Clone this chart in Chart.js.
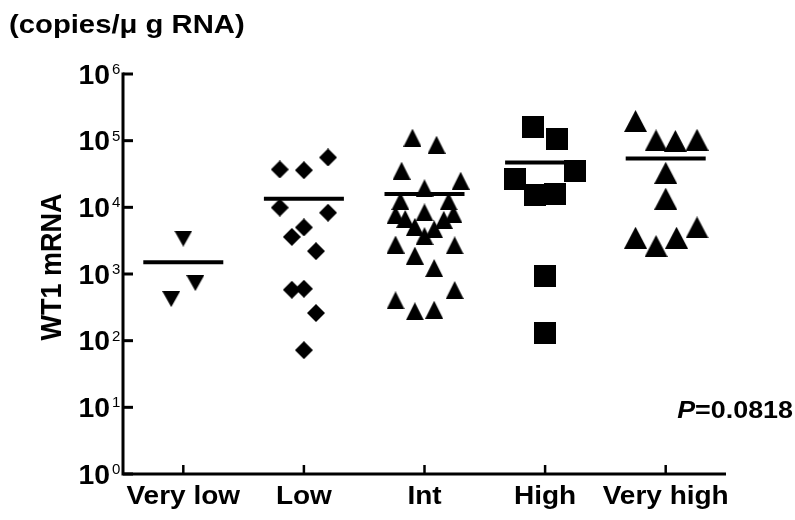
<!DOCTYPE html>
<html>
<head>
<meta charset="utf-8">
<script src="https://cdn.jsdelivr.net/npm/chart.js@4.4.1/dist/chart.umd.min.js"></script>
<style>
  html, body { margin: 0; padding: 0; background: #fff; }
  #wrap { width: 795px; height: 520px; position: relative; }
</style>
</head>
<body>
<div id="wrap"><canvas id="c" width="795" height="520"></canvas></div>
<script>
// ---------------- DATA ----------------
const categories = ['Very low', 'Low', 'Int', 'High', 'Very high'];

const veryLow      = [3400, 730, 420];
const veryLowJit   = [0, 0.10, -0.10];

const low          = [37000, 36000, 56000, 9900, 8300, 5000, 3600, 2200, 580, 600, 260, 72];
const lowJit       = [-0.2, 0, 0.2, -0.2, 0.2, 0, -0.1, 0.1, -0.1, 0, 0.1, 0];

const intermediate = [111000, 87000, 35400, 25100, 19300, 12400, 12300, 8400, 7700, 7900, 6700, 6500,
                      5100, 4700, 3700, 2770, 2690, 1890, 1230, 575, 403, 276, 291];
const intJit       = [-0.1, 0.1, -0.19, 0.3, 0, -0.2, 0.2, 0, -0.24, 0.24, -0.16, 0.16,
                      -0.08, 0.08, 0, -0.24, 0.25, -0.08, 0.08, 0.25, -0.24, -0.08, 0.08];

const high         = [160000, 107000, 35400, 26300, 15100, 16000, 940, 130];
const highJit      = [-0.1, 0.1, 0.25, -0.25, -0.08, 0.08, 0, 0];

const veryHigh     = [197000, 101000, 99000, 103000, 33000, 13500, 5000, 3500, 3500, 2630];
const veryHighJit  = [-0.25, -0.08, 0.08, 0.26, 0, 0, 0.26, 0.09, -0.25, -0.08];

const groupMeans   = [1500, 13500, 15800, 47000, 54000];

const yTickExponents = [0, 1, 2, 3, 4, 5, 6];
const yTickBase = '10';
const yTitle = 'WT1 mRNA';
const unitTitle = '(copies/\u03bc g RNA)';
const pLetter = 'P';
const pValueText = '=0.0818';

// ---------------- MARKERS ----------------
function shape(w, h, path) {
  const c = document.createElement('canvas');
  c.width = w; c.height = h;
  const g = c.getContext('2d');
  g.fillStyle = '#000';
  g.beginPath();
  path(g, w, h);
  g.closePath();
  g.fill();
  return c;
}
const triDown  = shape(18, 16, (g, w, h) => { g.moveTo(0, 0); g.lineTo(w, 0); g.lineTo(w / 2, h); });
const diamond  = shape(18, 18, (g, w, h) => { g.moveTo(w / 2, 0); g.lineTo(w, h / 2); g.lineTo(w / 2, h); g.lineTo(0, h / 2); });
const triUp    = shape(18, 18, (g, w, h) => { g.moveTo(w / 2, 0); g.lineTo(w, h); g.lineTo(0, h); });
const square   = shape(22, 22, (g, w, h) => { g.rect(0, 0, w, h); });
const triUpBig = shape(23, 22, (g, w, h) => { g.moveTo(w / 2, 0); g.lineTo(w, h); g.lineTo(0, h); });

function pts(values, jit, idx) {
  return values.map((v, k) => ({ x: idx + jit[k], y: v }));
}
function groupSet(values, jit, idx, style) {
  return {
    type: 'scatter',
    data: pts(values, jit, idx),
    pointStyle: style,
    pointRadius: 9,
    pointHoverRadius: 9,
    borderColor: '#000',
    backgroundColor: '#000',
    showLine: false
  };
}

// ---------------- DRAWING HELPERS ----------------
const FONT = "'Liberation Sans', Arial, Helvetica, sans-serif";
function txt(ctx, s, x, y, font, align, sx, sy, rot) {
  ctx.save();
  ctx.translate(x, y);
  if (rot) ctx.rotate(rot);
  ctx.scale(sx || 1, sy || 1);
  ctx.font = font;
  ctx.fillStyle = '#000';
  ctx.textAlign = align || 'left';
  ctx.textBaseline = 'alphabetic';
  ctx.fillText(s, 0, 0);
  ctx.restore();
}

const axesPlugin = {
  id: 'prismAxes',
  afterDatasetsDraw(chart) {
    const ctx = chart.ctx;
    const xs = chart.scales.x, ys = chart.scales.y;
    const a = chart.chartArea;
    ctx.save();
    ctx.strokeStyle = '#000';
    ctx.lineCap = 'butt';
    // axis lines
    ctx.lineWidth = 3;
    ctx.beginPath();
    ctx.moveTo(a.left, ys.getPixelForValue(Math.pow(10, yTickExponents[yTickExponents.length - 1])) - 1.5);
    ctx.lineTo(a.left, a.bottom);
    ctx.lineTo(xs.right, a.bottom);
    ctx.stroke();
    // y ticks (inward)
    ctx.lineWidth = 3;
    yTickExponents.forEach(e => {
      const y = ys.getPixelForValue(Math.pow(10, e));
      ctx.beginPath();
      ctx.moveTo(a.left, y);
      ctx.lineTo(a.left + 10, y);
      ctx.stroke();
    });
    // x ticks (inward)
    ctx.lineWidth = 2.5;
    categories.forEach((c, i) => {
      const x = xs.getPixelForValue(i);
      ctx.beginPath();
      ctx.moveTo(x, a.bottom);
      ctx.lineTo(x, a.bottom - 9);
      ctx.stroke();
    });
    ctx.restore();

    // y tick labels 10^n
    yTickExponents.forEach(e => {
      const y = ys.getPixelForValue(Math.pow(10, e));
      txt(ctx, yTickBase, 110, y + 9.5, 'bold 27px ' + FONT, 'right', 1.05);
      txt(ctx, String(e), 112, y + 0, '15px ' + FONT, 'left', 1.0);
    });
    // x tick labels
    categories.forEach((c, i) => {
      const x = xs.getPixelForValue(i);
      txt(ctx, c, x, a.bottom + 30, 'bold 25px ' + FONT, 'center', 1.12);
    });
    // unit title
    txt(ctx, unitTitle, 9, 33, 'bold 25px ' + FONT, 'left', 1.17);
    // y axis title
    txt(ctx, yTitle, 61, 267, 'bold 27px ' + FONT, 'center', 1, 1.12, -Math.PI / 2);
    // p-value
    ctx.save();
    ctx.font = 'bold 24px ' + FONT;
    const wRest = ctx.measureText(pValueText).width * 1.12;
    ctx.restore();
    const right = 793;
    txt(ctx, pValueText, right, 418, 'bold 24px ' + FONT, 'right', 1.12);
    txt(ctx, pLetter, right - wRest, 418, 'italic bold 24px ' + FONT, 'right', 1.12);
  }
};

// ---------------- CHART ----------------
new Chart(document.getElementById('c'), {
  type: 'scatter',
  data: {
    datasets: [
      {
        type: 'scatter',
        data: groupMeans.map((m, i) => ({ x: i, y: m })),
        pointStyle: 'line',
        pointRadius: 40,
        pointHoverRadius: 40,
        pointBorderWidth: 4,
        borderColor: '#000',
        backgroundColor: '#000',
        showLine: false
      },
      groupSet(veryLow, veryLowJit, 0, triDown),
      groupSet(low, lowJit, 1, diamond),
      groupSet(intermediate, intJit, 2, triUp),
      groupSet(high, highJit, 3, square),
      groupSet(veryHigh, veryHighJit, 4, triUpBig)
    ]
  },
  options: {
    responsive: false,
    animation: false,
    events: [],
    layout: { padding: { left: 0, top: 74, right: 69, bottom: 0 } },
    plugins: { legend: { display: false }, tooltip: { enabled: false }, title: { display: false } },
    scales: {
      x: {
        type: 'linear',
        min: -0.5,
        max: categories.length - 0.5,
        grid: { display: false },
        border: { display: false },
        ticks: { display: false },
        afterFit(s) { s.height = 46; }
      },
      y: {
        type: 'logarithmic',
        min: Math.pow(10, yTickExponents[0]),
        max: Math.pow(10, yTickExponents[yTickExponents.length - 1]),
        grid: { display: false },
        border: { display: false },
        ticks: { display: false },
        afterFit(s) { s.width = 123; }
      }
    }
  },
  plugins: [axesPlugin]
});
</script>
</body>
</html>
